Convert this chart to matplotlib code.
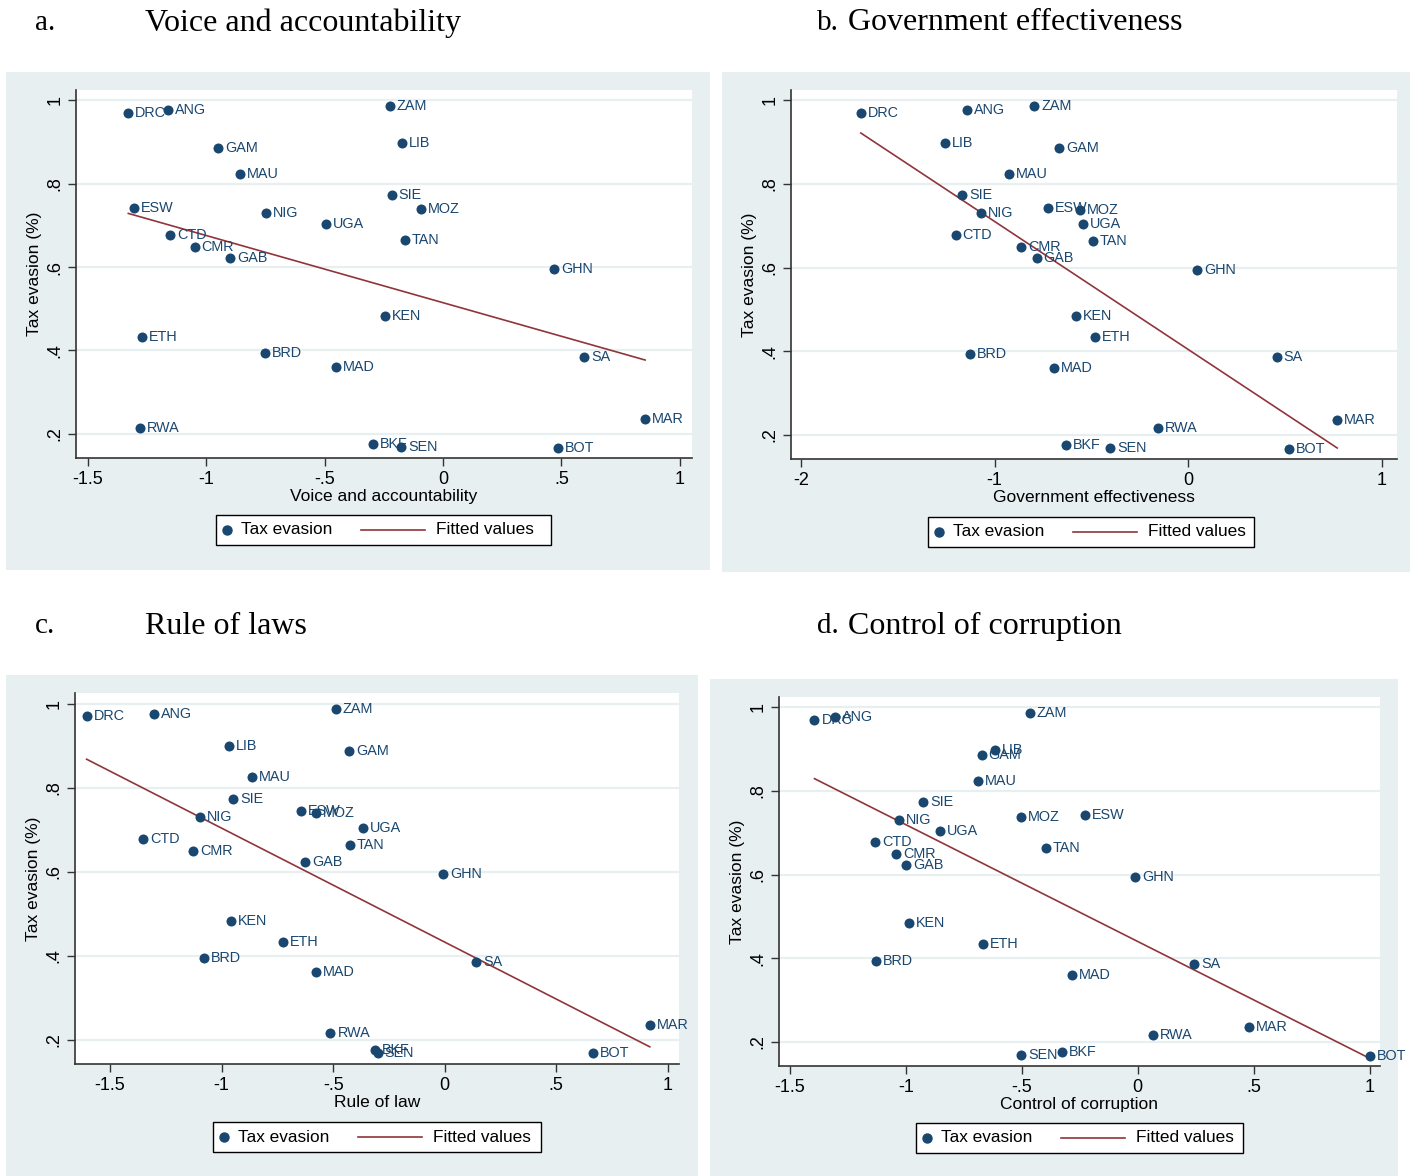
import numpy as np
import matplotlib.pyplot as plt
from matplotlib.patches import Rectangle
from matplotlib.lines import Line2D

# data
countries = ['DRC', 'ANG', 'ZAM', 'LIB', 'GAM', 'MAU', 'SIE', 'ESW', 'NIG', 'MOZ',
             'UGA', 'CTD', 'TAN', 'CMR', 'GAB', 'GHN', 'KEN', 'ETH', 'BRD', 'MAD',
             'SA', 'MAR', 'RWA', 'BKF', 'SEN', 'BOT']
tax_evasion = [0.970, 0.976, 0.987, 0.898, 0.887, 0.824, 0.773, 0.743, 0.730, 0.739,
               0.704, 0.678, 0.664, 0.649, 0.622, 0.595, 0.483, 0.433, 0.394, 0.360,
               0.385, 0.236, 0.215, 0.176, 0.169, 0.167]
voice = [-1.329, -1.161, -0.225, -0.174, -0.949, -0.858, -0.216, -1.304, -0.749, -0.094,
         -0.495, -1.152, -0.160, -1.049, -0.900, 0.470, -0.243, -1.270, -0.751, -0.451,
         0.596, 0.854, -1.280, -0.294, -0.176, 0.485]
gov_eff = [-1.691, -1.141, -0.794, -1.256, -0.665, -0.925, -1.166, -0.722, -1.072, -0.557,
           -0.541, -1.201, -0.492, -0.863, -0.782, 0.048, -0.580, -0.483, -1.127, -0.695,
           0.458, 0.771, -0.156, -0.633, -0.403, 0.520]
rule_law = [-1.605, -1.305, -0.488, -0.967, -0.428, -0.863, -0.949, -0.643, -1.095, -0.576,
            -0.368, -1.353, -0.424, -1.127, -0.625, -0.008, -0.959, -0.725, -1.079, -0.578,
            0.140, 0.919, -0.512, -0.312, -0.300, 0.663]
corruption = [-1.394, -1.306, -0.465, -0.616, -0.673, -0.690, -0.924, -0.227, -1.031, -0.504,
              -0.853, -1.133, -0.396, -1.041, -1.000, -0.012, -0.986, -0.667, -1.129, -0.282,
              0.243, 0.478, 0.065, -0.327, -0.502, 1.000]

navy = '#1a476f'
maroon = '#90353b'
bg = '#e8eff1'

plt.rcParams['font.family'] = ['Liberation Sans', 'DejaVu Sans']

fig = plt.figure(figsize=(14.17, 11.76), dpi=100)
W, H = 1417, 1176

def px(x0, y0, x1, y1):
    # pixel box -> figure fraction [left, bottom, width, height]
    return [x0 / W, 1 - y1 / H, (x1 - x0) / W, (y1 - y0) / H]

def fx(v):
    return v / W

def fy(v):
    return 1 - v / H

panels = [
    ('a.', 'Voice and accountability', voice, 'Voice and accountability',
     (6, 72, 710, 570), (76, 90, 692, 458), (-1.55, 1.052), [-1.5, -1, -0.5, 0, 0.5, 1],
     (216, 515, 335), (35, 145, 23)),
    ('b.', 'Government effectiveness', gov_eff, 'Government effectiveness',
     (722, 72, 1410, 572), (791, 90, 1397, 459), (-2.052, 1.08), [-2, -1, 0, 1],
     (928, 517, 326), (817, 848, 23)),
    ('c.', 'Rule of laws', rule_law, 'Rule of law',
     (6, 675, 698, 1176), (75, 693, 679, 1064), (-1.657, 1.05), [-1.5, -1, -0.5, 0, 0.5, 1],
     (213, 1122, 328), (35, 145, 626)),
    ('d.', 'Control of corruption', corruption, 'Control of corruption',
     (710, 679, 1398, 1176), (779, 697, 1380, 1066), (-1.547, 1.045), [-1.5, -1, -0.5, 0, 0.5, 1],
     (916, 1123, 327), (817, 848, 626)),
]

def fmt(v):
    if v == 0:
        return '0'
    s = ('%g' % v)
    return s.replace('0.', '.')

y = np.array(tax_evasion)
for letter, title, xs, xlabel, bgbox, axbox, xlim, xticks, leg0, tpos in panels:
    x = np.array(xs)
    # background panel
    b = px(*bgbox)
    fig.patches.append(Rectangle((b[0], b[1]), b[2], b[3], transform=fig.transFigure,
                                 facecolor=bg, edgecolor='none', zorder=-5))
    # title
    ty = fy(tpos[2])
    fig.text(fx(tpos[0]), ty, letter, family='Liberation Serif', fontsize=21, va='center')
    fig.text(fx(tpos[1]), ty, title, family='Liberation Serif', fontsize=23, va='center')

    ax = fig.add_axes(px(*axbox))
    ax.set_facecolor('white')
    for s in ['top', 'right']:
        ax.spines[s].set_visible(False)
    for s in ['left', 'bottom']:
        ax.spines[s].set_color('#333333')
        ax.spines[s].set_linewidth(1.2)
    ax.set_xlim(*xlim)
    ax.set_ylim(0.142, 1.025)
    yticks = [0.2, 0.4, 0.6, 0.8, 1.0]
    ax.set_yticks(yticks)
    ax.set_yticklabels([fmt(v) for v in yticks], rotation=90, va='center', fontsize=13)
    ax.set_xticks(xticks)
    ax.set_xticklabels([fmt(v) for v in xticks], fontsize=13)
    ax.tick_params(length=6, width=1, color='#333333', pad=3)
    for v in yticks:
        ax.axhline(v, color=bg, lw=1.6, zorder=1)

    ax.scatter(x, y, s=52, color=navy, zorder=3, linewidths=0)
    for cx, cy, name in zip(x, y, countries):
        ax.annotate(name, (cx, cy), xytext=(5, 0), textcoords='offset points',
                    fontsize=10.4, color=navy, va='center', ha='left', zorder=4)

    k, c = np.polyfit(x, y, 1)
    xf = np.array([x.min(), x.max()])
    ax.plot(xf, k * xf + c, color=maroon, lw=1.2, zorder=2)

    ax.set_xlabel(xlabel, fontsize=12.5, labelpad=1)
    ax.set_ylabel('Tax evasion (%)', fontsize=12.5, labelpad=3)

    # legend box (Stata style)
    lx, ly, lw = leg0
    lb = px(lx, ly, lx + lw, ly + 30)
    fig.patches.append(Rectangle((lb[0], lb[1]), lb[2], lb[3], transform=fig.transFigure,
                                 facecolor='white', edgecolor='black', lw=1.0, zorder=5))
    cy = fy(ly + 15)
    fig.add_artist(Line2D([fx(lx + 11)], [cy], marker='o', ls='none', color=navy,
                          markersize=6.5, transform=fig.transFigure, zorder=6))
    fig.text(fx(lx + 25), cy, 'Tax evasion', fontsize=12.4, va='center', zorder=6)
    fig.add_artist(Line2D([fx(lx + 145), fx(lx + 209)], [cy, cy], color=maroon, lw=1.2,
                          transform=fig.transFigure, zorder=6))
    fig.text(fx(lx + 220), cy, 'Fitted values', fontsize=12.4, va='center', zorder=6)

fig.savefig('out.png', dpi=100)
